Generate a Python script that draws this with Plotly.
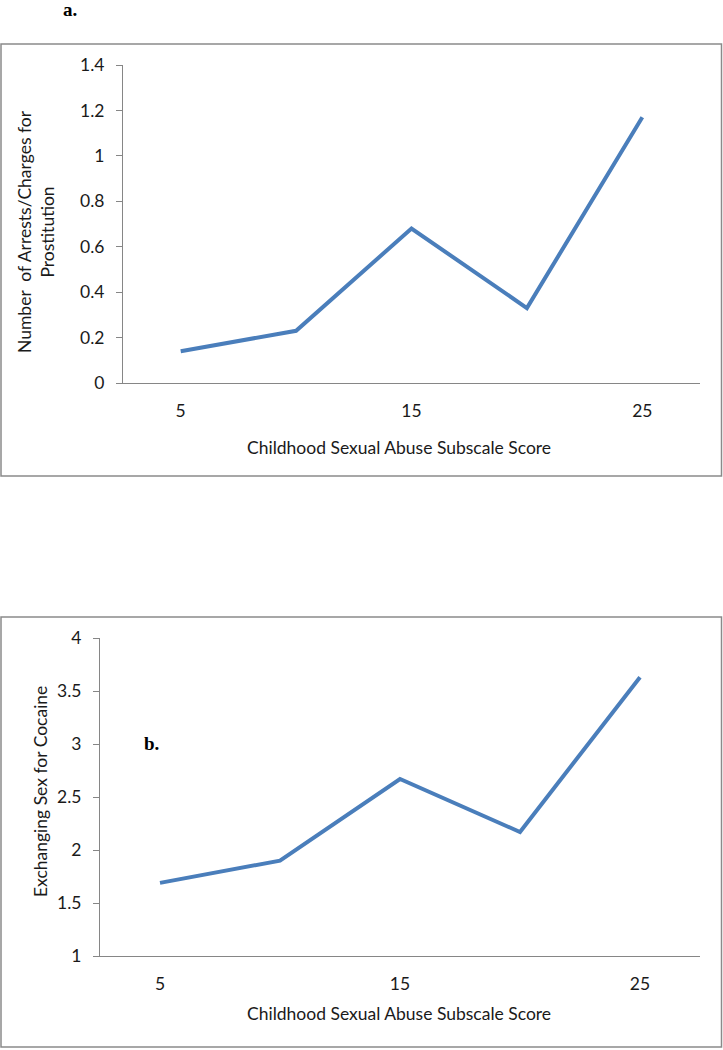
import plotly.graph_objects as go

# ---------------- data ----------------
scores = [5, 10, 15, 20, 25]
tick_scores = [5, 15, 25]
arrests = [0.14, 0.23, 0.68, 0.33, 1.17]
cocaine = [1.69, 1.90, 2.67, 2.17, 3.63]

x_title = "Childhood Sexual Abuse Subscale Score"
ya_title = "Number  of Arrests/Charges for<br>Prostitution"
yb_title = "Exchanging Sex for Cocaine"

# ---------------- geometry helpers ----------------
W, H = 723, 1050


def px(x):
    return x / W


def py(y):
    return 1 - y / H


FONT = "Lato"
FS = 17.5
LINE_COL = "#4A7EBB"
AX_COL = "#868686"
TXT = "#1a1a1a"

# panel pixel anchors
A_LEFT, A_RIGHT, A_TOP, A_BOT = 123, 700, 65, 383
B_LEFT, B_RIGHT, B_TOP, B_BOT = 100, 700, 638, 956

fig = go.Figure()
fig.add_trace(go.Scatter(x=scores, y=arrests, xaxis="x", yaxis="y", mode="lines",
                         line=dict(color=LINE_COL, width=4), hoverinfo="skip"))
fig.add_trace(go.Scatter(x=scores, y=cocaine, xaxis="x2", yaxis="y2", mode="lines",
                         line=dict(color=LINE_COL, width=4), hoverinfo="skip"))

tickfont = dict(family=FONT, size=FS, color=TXT)

common_x = dict(type="linear", range=[2.5, 27.5], showline=True, linecolor=AX_COL, linewidth=1,
                showgrid=False, zeroline=False, ticks="", tickmode="array",
                tickvals=tick_scores, ticktext=[str(v) for v in tick_scores],
                tickfont=tickfont, automargin=False, fixedrange=True, ticklabelstandoff=12)
common_y = dict(showline=True, linecolor=AX_COL, linewidth=1, ticks="outside",
                ticklen=6, tickcolor=AX_COL, tickwidth=1, showgrid=False,
                zeroline=False, tickfont=tickfont, ticklabelstandoff=8,
                automargin=False, fixedrange=True)

fig.update_layout(
    template="none",
    width=W, height=H, autosize=False,
    margin=dict(l=0, r=0, t=0, b=0, pad=0, autoexpand=False),
    paper_bgcolor="white", plot_bgcolor="rgba(0,0,0,0)",
    font=dict(family=FONT, color=TXT),
    showlegend=False,
    xaxis=dict(common_x, domain=[px(A_LEFT), px(A_RIGHT)], anchor="y"),
    yaxis=dict(common_y, domain=[py(A_BOT), py(A_TOP)], anchor="x", range=[0, 1.4], dtick=0.2),
    xaxis2=dict(common_x, domain=[px(B_LEFT), px(B_RIGHT)], anchor="y2"),
    yaxis2=dict(common_y, domain=[py(B_BOT), py(B_TOP)], anchor="x2", range=[1, 4], dtick=0.5),
)

shapes = [
    dict(type="rect", xref="paper", yref="paper", x0=px(1), x1=px(721.5), y0=py(476), y1=py(44),
         line=dict(color="#8a8a8a", width=1.5)),
    dict(type="rect", xref="paper", yref="paper", x0=px(1), x1=px(721.5), y0=py(1047), y1=py(617),
         line=dict(color="#8a8a8a", width=1.5)),
]
fig.update_layout(shapes=shapes)

titlefont = dict(family=FONT, size=FS, color=TXT)


def ann(text, x, y, font, angle=0):
    return dict(text=text, x=px(x), y=py(y), xref="paper", yref="paper", showarrow=False,
                xanchor="center", yanchor="middle", textangle=angle, font=font)


serif = dict(family="Liberation Serif", size=19, color="black")
annotations = [
    ann("<b>a.</b>", 70, 10, serif),
    ann("<b>b.</b>", 151, 743, serif),
    ann(x_title, 399, 447, titlefont),
    ann(x_title, 399, 1013, titlefont),
    ann(ya_title, 36, 232, titlefont, -90),
    ann(yb_title, 40, 792, titlefont, -90),
]
fig.update_layout(annotations=annotations)

fig.write_html("out.html", config={"displayModeBar": False},
               post_script="document.body.style.margin='0';")
